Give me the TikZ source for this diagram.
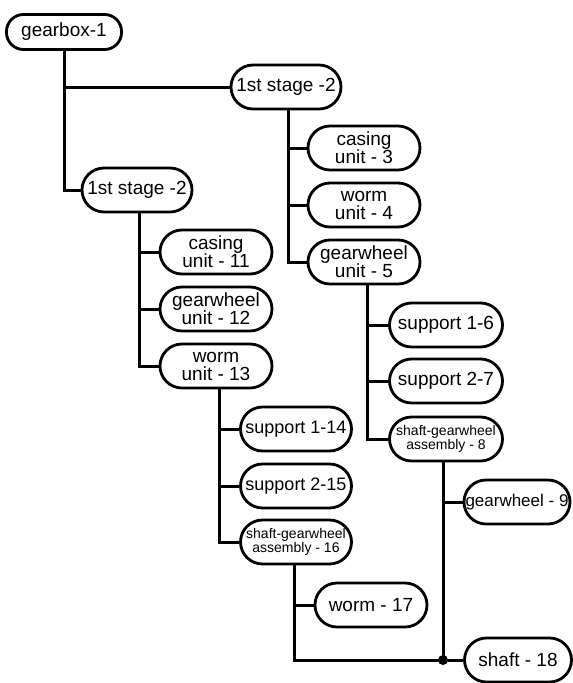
\documentclass[tikz,border=0pt]{standalone}
\usepackage{fontspec}
\setmainfont{Liberation Sans}
\begin{document}
\begin{tikzpicture}[x=1pt,y=-1pt,
  box/.style={draw, line width=2.8pt, fill=white, rounded corners=22pt,
    minimum width=112pt, minimum height=44pt, inner sep=0pt, align=center,
    font=\fontsize{19}{18}\selectfont},
  smalltext/.style={font=\fontsize{14}{13}\selectfont},
  link/.style={line width=3pt, line join=miter}]
\useasboundingbox (0,0) rectangle (573,683);
% nodes
\node[box, minimum width=115pt, minimum height=35pt, rounded corners=17pt] (g1) at (64,32) {gearbox-1};
\node[box, minimum width=110pt] (s2r) at (286,87) {1st stage -2};
\node[box, minimum width=110pt] (s2l) at (137,190) {1st stage -2};
\node[box] (c3) at (364,148) {casing\\unit - 3};
\node[box] (w4) at (364,205) {worm\\unit - 4};
\node[box] (gw5) at (364,262) {gearwheel\\unit - 5};
\node[box] (c11) at (216,252) {casing\\unit - 11};
\node[box] (gw12) at (216,309) {gearwheel\\unit - 12};
\node[box] (w13) at (216,366) {worm\\unit - 13};
\node[box, minimum width=113pt] (s6) at (446,325) {support 1-6};
\node[box, minimum width=113pt] (s7) at (446,381) {support 2-7};
\node[box, minimum width=113pt, smalltext] (a8) at (446,439) {shaft-gearwheel\\assembly - 8};
\node[box, minimum width=106pt, font=\fontsize{17}{17}\selectfont] (gw9) at (517,502) {gearwheel - 9};
\node[box, minimum width=111pt, font=\fontsize{18}{17}\selectfont] (s14) at (296,429) {support 1-14};
\node[box, minimum width=111pt, font=\fontsize{18}{17}\selectfont] (s15) at (296,486) {support 2-15};
\node[box, minimum width=111pt, smalltext] (a16) at (296,542) {shaft-gearwheel\\assembly - 16};
\node[box] (w17) at (371,605) {worm - 17};
\node[box, minimum width=107pt] (sh18) at (518,660) {shaft - 18};
% connectors
\draw[link] (g1.south) |- (s2l.west);
\draw[link] (g1.south |- s2r.west) -- (s2r.west);
\draw[link] ([xshift=2]s2r.south) |- (c3.west);
\draw[link] ([xshift=2]s2r.south) |- (w4.west);
\draw[link] ([xshift=2]s2r.south) |- (gw5.west);
\draw[link] ([xshift=2]s2l.south) |- (c11.west);
\draw[link] ([xshift=2]s2l.south) |- (gw12.west);
\draw[link] ([xshift=2]s2l.south) |- (w13.west);
\draw[link] ([xshift=3]gw5.south) |- (s6.west);
\draw[link] ([xshift=3]gw5.south) |- (s7.west);
\draw[link] ([xshift=3]gw5.south) |- (a8.west);
\draw[link] ([xshift=3]w13.south) |- (s14.west);
\draw[link] ([xshift=3]w13.south) |- (s15.west);
\draw[link] ([xshift=3]w13.south) |- (a16.west);
\draw[link] ([xshift=-3]a8.south) |- (gw9.west);
\coordinate (j) at ([xshift=-3]a8.south |- sh18.west);
\draw[link] ([xshift=-3]a8.south) -- (j) -- (sh18.west);
\draw[link] ([xshift=-2]a16.south) |- (w17.west);
\draw[link] ([xshift=-2]a16.south) |- (j);
\fill (j) circle (5pt);
\end{tikzpicture}
\end{document}
